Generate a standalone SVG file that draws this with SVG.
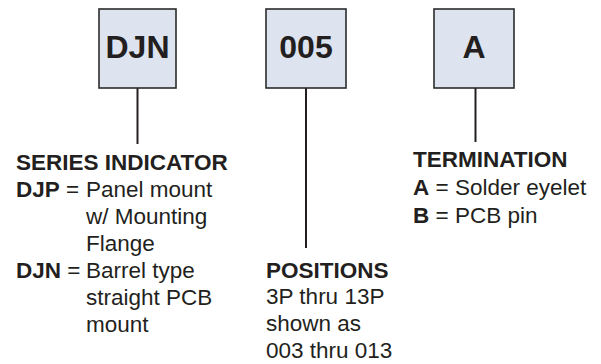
<svg xmlns="http://www.w3.org/2000/svg" width="601" height="364" viewBox="0 0 601 364">
  <style>
    .box { fill: #dde3ef; stroke: #2b2b2b; stroke-width: 1.6; }
    .code { font-family: "Liberation Sans", Arial, sans-serif; font-weight: bold; font-size: 32px; fill: #231f20; text-anchor: middle; }
    .t { font-family: "Liberation Sans", Arial, sans-serif; font-size: 22.5px; fill: #231f20; }
    .b { font-weight: bold; }
    .conn { stroke: #231f20; stroke-width: 2; fill: none; }
  </style>
  <rect x="0" y="0" width="601" height="364" fill="#ffffff"/>
  <g id="connectors">
    <line class="conn" x1="137.5" y1="88" x2="137.5" y2="144"/>
    <line class="conn" x1="306" y1="88" x2="306" y2="248"/>
    <line class="conn" x1="475.5" y1="88" x2="475.5" y2="142"/>
  </g>
  <g id="node-series">
    <rect class="box" x="99" y="9" width="77" height="79"/>
    <text class="code" x="137.5" y="58">DJN</text>
  </g>
  <g id="node-positions">
    <rect class="box" x="266" y="9" width="80" height="79"/>
    <text class="code" x="306" y="58">005</text>
  </g>
  <g id="node-termination">
    <rect class="box" x="434" y="9" width="80" height="79"/>
    <text class="code" x="474" y="58">A</text>
  </g>
  <g id="label-series">
    <text class="t b" x="16" y="170">SERIES INDICATOR</text>
    <text class="t" x="16" y="197"><tspan class="b">DJP</tspan> = <tspan x="86">Panel mount</tspan></text>
    <text class="t" x="86" y="224">w/ Mounting</text>
    <text class="t" x="86" y="251">Flange</text>
    <text class="t" x="16" y="278"><tspan class="b">DJN</tspan> = <tspan x="86">Barrel type</tspan></text>
    <text class="t" x="86" y="305">straight PCB</text>
    <text class="t" x="86" y="332">mount</text>
  </g>
  <g id="label-positions">
    <text class="t b" x="266" y="278">POSITIONS</text>
    <text class="t" x="266" y="304">3P thru 13P</text>
    <text class="t" x="266" y="331">shown as</text>
    <text class="t" x="266" y="358">003 thru 013</text>
  </g>
  <g id="label-termination">
    <text class="t b" x="413" y="167">TERMINATION</text>
    <text class="t" x="413" y="195"><tspan class="b">A</tspan> = Solder eyelet</text>
    <text class="t" x="413" y="223"><tspan class="b">B</tspan> = PCB pin</text>
  </g>
</svg>
